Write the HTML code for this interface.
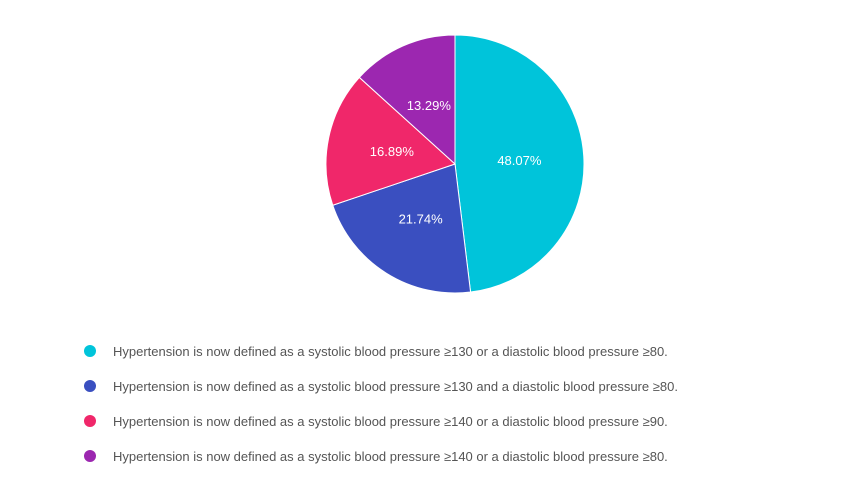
<!DOCTYPE html>
<html><head><meta charset="utf-8"><style>
body{margin:0;background:#fff;width:841px;height:484px;overflow:hidden;font-family:"Liberation Sans",Arial,sans-serif}
</style></head><body>
<svg id="chart" width="841" height="484">
<g id="slices"></g><g id="labels"></g><g id="legend"></g>
</svg>
<script>
const categories=["Hypertension is now defined as a systolic blood pressure ≥130 or a diastolic blood pressure ≥80.","Hypertension is now defined as a systolic blood pressure ≥130 and a diastolic blood pressure ≥80.","Hypertension is now defined as a systolic blood pressure ≥140 or a diastolic blood pressure ≥90.","Hypertension is now defined as a systolic blood pressure ≥140 or a diastolic blood pressure ≥80."];
const values=[48.07,21.74,16.89,13.29];
const colors=["#00C4DA","#3A4FC0","#F0276A","#9C27B0"];
const ns="http://www.w3.org/2000/svg";
const cx=455,cy=164,r=129;
const total=values.reduce((a,b)=>a+b,0);
let a0=-Math.PI/2;
const sg=document.getElementById('slices'),lg=document.getElementById('labels'),leg=document.getElementById('legend');
values.forEach((v,i)=>{
 const sw=v/total*2*Math.PI,a1=a0+sw;
 const p=document.createElementNS(ns,'path');
 const x0=cx+r*Math.cos(a0),y0=cy+r*Math.sin(a0),x1=cx+r*Math.cos(a1),y1=cy+r*Math.sin(a1);
 p.setAttribute('d',`M${cx},${cy}L${x0},${y0}A${r},${r} 0 ${sw>Math.PI?1:0} 1 ${x1},${y1}Z`);
 p.setAttribute('fill',colors[i]);p.setAttribute('stroke','#fff');p.setAttribute('stroke-width','1');
 
 
 sg.appendChild(p);
 const am=a0+sw/2;
 const t=document.createElementNS(ns,'text');
 t.setAttribute('x',cx+r*0.5*Math.cos(am));t.setAttribute('y',cy+r*0.5*Math.sin(am)+5);
 t.setAttribute('text-anchor','middle');t.setAttribute('fill','#fff');t.setAttribute('font-size','13');
 t.textContent=v.toFixed(2)+'%';
 
 
 lg.appendChild(t);
 a0=a1;
 const y=351+i*35;
 const c=document.createElementNS(ns,'circle');
 c.setAttribute('cx',90);c.setAttribute('cy',y);c.setAttribute('r',6);c.setAttribute('fill',colors[i]);
 
 
 leg.appendChild(c);
 const lt=document.createElementNS(ns,'text');
 lt.setAttribute('x',113);lt.setAttribute('y',y+5);lt.setAttribute('fill','#555');lt.setAttribute('font-size','13');
 lt.textContent=categories[i];
 
 
 leg.appendChild(lt);
});
</script>
</body></html>
